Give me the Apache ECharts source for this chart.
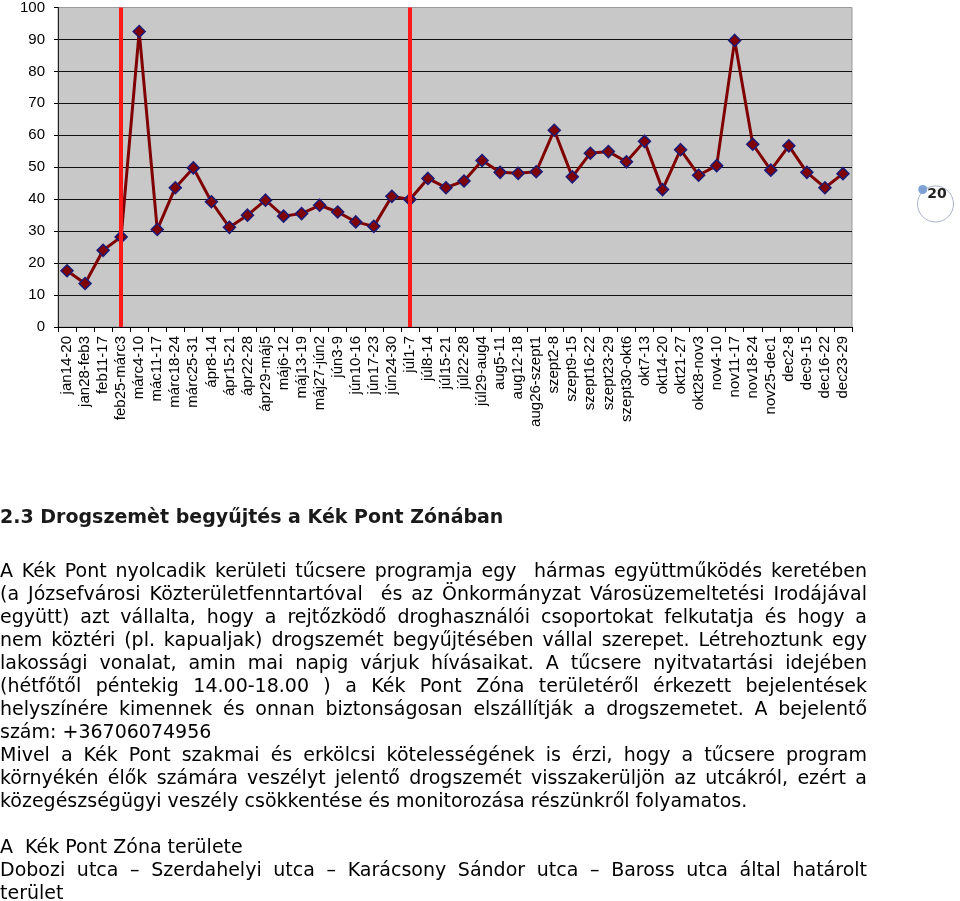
<!DOCTYPE html>
<html><head><meta charset="utf-8">
<script src="https://cdn.jsdelivr.net/npm/echarts@6.0.0/dist/echarts.min.js"></script>
<style>html,body{margin:0;padding:0;background:#fff}#c{width:960px;height:901px}</style>
</head><body><div id="c"></div>
<script>
const categories = ['jan14-20','jan28-feb3','feb11-17','feb25-márc3','márc4-10','mác11-17','márc18-24','márc25-31','ápr8-14','ápr15-21','ápr22-28','ápr29-máj5','máj6-12','máj13-19','máj27-jún2','jún3-9','jún10-16','jún17-23','jún24-30','júl1-7','júl8-14','júl15-21','júl22-28','júl29-aug4','aug5-11','aug12-18','aug26-szept1','szept2-8','szept9-15','szept16-22','szept23-29','szept30-okt6','okt7-13','okt14-20','okt21-27','okt28-nov3','nov4-10','nov11-17','nov18-24','nov25-dec1','dec2-8','dec9-15','dec16-22','dec23-29'];
const values = [17.6,13.6,24.0,28.2,92.5,30.5,43.6,49.8,39.2,31.2,35.0,39.7,34.7,35.5,38.1,36.0,32.9,31.5,40.9,39.9,46.5,43.6,45.7,52.1,48.4,48.1,48.6,61.6,47.0,54.4,54.9,51.7,58.1,43.0,55.5,47.5,50.5,89.7,57.2,49.1,56.7,48.4,43.6,48.0];
const yMin = 0, yMax = 100, yStep = 10;
const markedCategories = ['feb25-márc3','júl1-7'];
const pageNumber = '20';
const headingText = '2.3 Drogszemèt begyűjtés a Kék Pont Zónában';
const bodyLines = [
  ['A Kék Pont nyolcadik kerületi tűcsere programja egy  hármas együttműködés keretében', true],
  ['(a Józsefvárosi Közterületfenntartóval  és az Önkormányzat Városüzemeltetési Irodájával', true],
  ['együtt) azt vállalta, hogy a rejtőzködő droghasználói csoportokat felkutatja és hogy a', true],
  ['nem köztéri (pl. kapualjak) drogszemét begyűjtésében vállal szerepet. Létrehoztunk egy', true],
  ['lakossági vonalat, amin mai napig várjuk hívásaikat. A tűcsere nyitvatartási idejében', true],
  ['(hétfőtől péntekig 14.00-18.00 ) a Kék Pont Zóna területéről érkezett bejelentések', true],
  ['helyszínére kimennek és onnan biztonságosan elszállítják a drogszemetet. A bejelentő', true],
  ['szám: +36706074956', false],
  ['Mivel a Kék Pont szakmai és erkölcsi kötelességének is érzi, hogy a tűcsere program', true],
  ['környékén élők számára veszélyt jelentő drogszemét visszakerüljön az utcákról, ezért a', true],
  ['közegészségügyi veszély csökkentése és monitorozása részünkről folyamatos.', false],
  ['', false],
  ['A  Kék Pont Zóna területe', false],
  ['Dobozi utca – Szerdahelyi utca – Karácsony Sándor utca – Baross utca által határolt', true],
  ['terület', false]
];

const chart = echarts.init(document.getElementById('c'));
const bodyFont = 'normal 19px "DejaVu Sans"';
const headFont = 'bold 19px "DejaVu Sans"';
const cv = document.createElement('canvas').getContext('2d');
function mw(t, f){ cv.font = f; return cv.measureText(t).width; }

const graphics = [];
graphics.push({type:'text', x:0, y:518.5, style:{text:headingText, font:headFont, fill:'#1a1a1a', align:'left', verticalAlign:'middle'}});
const lineY0 = 572, lineH = 23.0, fullW = 867;
bodyLines.forEach(function(l, i){
  const y = lineY0 + i*lineH;
  const t = l[0];
  if (!t) return;
  if (!l[1]) {
    graphics.push({type:'text', x:0, y:y, style:{text:t, font:bodyFont, fill:'#000', align:'left', verticalAlign:'middle'}});
    return;
  }
  const toks = t.split(' ');
  let sum = 0; toks.forEach(function(w){ sum += mw(w, bodyFont); });
  const gap = (fullW - sum) / (toks.length - 1);
  let x = 0;
  toks.forEach(function(w){
    if (w) graphics.push({type:'text', x:x, y:y, style:{text:w, font:bodyFont, fill:'#000', align:'left', verticalAlign:'middle'}});
    x += mw(w, bodyFont) + gap;
  });
});
// page number badge
graphics.push({type:'circle', shape:{cx:935.5, cy:204, r:18}, style:{fill:'#fff', stroke:'#a9b4c6', lineWidth:1}});
graphics.push({type:'circle', shape:{cx:922.7, cy:189.5, r:4.5}, style:{fill:'#7ea2d6'}});
graphics.push({type:'text', x:937, y:194.5, style:{text:pageNumber, font:'bold 14px "DejaVu Sans"', fill:'#222', align:'center', verticalAlign:'middle'}});

chart.setOption({
  animation:false,
  backgroundColor:'#fff',
  grid:{left:58, top:7, width:794, height:320, show:true, backgroundColor:'#c8c8c8', borderColor:'#9a9a9a', borderWidth:1},
  xAxis:{type:'category', data:categories, boundaryGap:true,
    axisLine:{lineStyle:{color:'#000', width:1}},
    axisTick:{show:true, length:5, lineStyle:{color:'#000'}},
    axisLabel:{rotate:90, interval:0, margin:9, color:'#000', fontFamily:'"Liberation Sans", Arial', fontSize:15}},
  yAxis:{type:'value', min:yMin, max:yMax, interval:yStep,
    axisLine:{show:true, lineStyle:{color:'#222'}},
    axisTick:{show:true, length:4, lineStyle:{color:'#000'}},
    axisLabel:{color:'#000', fontFamily:'"Liberation Sans", Arial', fontSize:15, margin:13},
    splitLine:{show:true, showMaxLine:false, lineStyle:{color:'#111', width:1}}},
  series:[{type:'line', data:values, symbol:'diamond', symbolSize:12,
    lineStyle:{color:'#800000', width:3},
    itemStyle:{color:'#800000', borderColor:'#1c1c78', borderWidth:1.5},
    z:3,
    markLine:{silent:true, symbol:'none', label:{show:false},
      lineStyle:{color:'#ff1a1a', width:4, type:'solid'},
      data: markedCategories.map(function(c){ return {xAxis:c}; })}
  }],
  graphic: graphics
});
</script></body></html>
